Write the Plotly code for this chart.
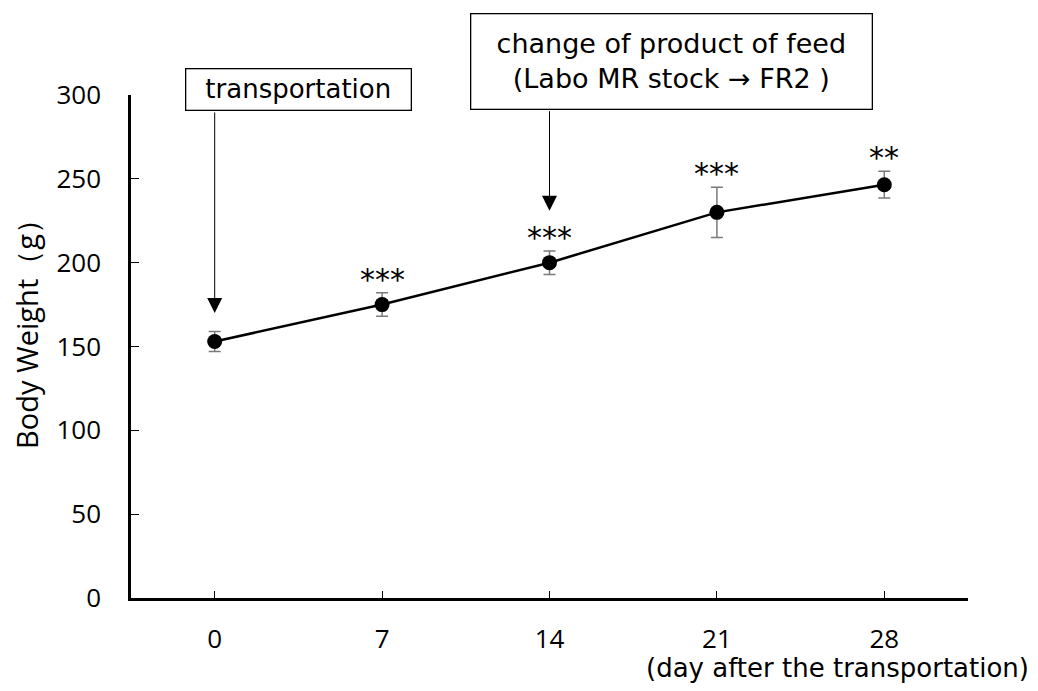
import plotly.graph_objects as go

days = [0, 7, 14, 21, 28]
weight = [153, 175, 200, 230, 246.5]
sd = [6, 7, 7, 15, 8]
signif = ["", "***", "***", "***", "**"]
tick_vals = [0, 7, 14, 21, 28, 31.5]
tick_text = ["0", "7", "14", "21", "28", ""]
y_ticks = [0, 50, 100, 150, 200, 250, 300]

JP = "DejaVu Sans"
LAT = "Open Sans"

fig = go.Figure()
fig.add_trace(go.Scatter(
    x=days, y=weight, mode="lines+markers",
    line=dict(color="black", width=2.5),
    marker=dict(color="black", size=15),
    error_y=dict(type="data", array=sd, visible=True, color="#7a7a7a", thickness=1.5, width=6),
    showlegend=False,
))

# significance marks above error bars
for d, w, s, g in zip(days, weight, sd, signif):
    if g:
        fig.add_annotation(x=d, y=w + s, text=g, showarrow=False, yanchor="bottom",
                           yshift=-6, font=dict(family="DejaVu Sans", size=30, color="black"))

# arrows
fig.add_annotation(x=0, y=170, ax=0, ay=-202, text="", showarrow=True,
                   arrowhead=2, arrowsize=3, arrowwidth=1, arrowcolor="black")
fig.add_annotation(x=14, y=231, ax=0, ay=-101, text="", showarrow=True,
                   arrowhead=2, arrowsize=3, arrowwidth=1, arrowcolor="black")

PX0, PW = 131, 837
PY0, PH = 598, 503
def px(x):
    return (x - PX0) / PW
def py(y):
    return (PY0 - y) / PH

fig.add_annotation(xref="paper", yref="paper", x=px(298), y=py(89), text="transportation",
                   showarrow=False, xanchor="center", yanchor="middle",
                   width=224, height=40, borderpad=0, bordercolor="black", borderwidth=1.3,
                   bgcolor="white", font=dict(family=JP, size=26, color="black"))
fig.add_annotation(xref="paper", yref="paper", x=px(671), y=py(61.5),
                   text="change of product of feed<br>(Labo MR stock → FR2 )",
                   showarrow=False, xanchor="center", yanchor="middle", align="center",
                   width=400, height=94, borderpad=0, bordercolor="black", borderwidth=1.3,
                   bgcolor="white", font=dict(family=JP, size=27, color="black"))
fig.add_annotation(xref="paper", yref="paper", x=px(1031), y=py(668),
                   text="(day after the transportation)", showarrow=False,
                   xanchor="right", yanchor="middle", font=dict(family=JP, size=26, color="black"))
fig.add_annotation(xref="paper", yref="paper", x=px(26), y=py(327),
                   text="Body Weight（g）", textangle=-90, showarrow=False,
                   xanchor="center", yanchor="middle", font=dict(family=LAT, size=29, color="black"))

fig.update_layout(
    width=1030, height=683,
    margin=dict(l=123, r=70, t=87, b=93),
    plot_bgcolor="white", paper_bgcolor="white",
    xaxis=dict(range=[-3.5, 31.5], tickvals=tick_vals, ticktext=tick_text,
               ticks="inside", ticklen=7, tickwidth=1.2, tickcolor="black",
               showline=True, linecolor="black", linewidth=2.5, showgrid=False, zeroline=False,
               ticklabelstandoff=16, tickfont=dict(family=LAT, size=26, color="black")),
    yaxis=dict(range=[0, 300], tickvals=y_ticks, ticks="inside", ticklen=8, tickwidth=1.2,
               tickcolor="black", showline=True, linecolor="black", linewidth=2.5,
               showgrid=False, zeroline=False, ticklabelstandoff=22,
               tickfont=dict(family=LAT, size=26, color="black")),
)

fig.write_html("out.html")
